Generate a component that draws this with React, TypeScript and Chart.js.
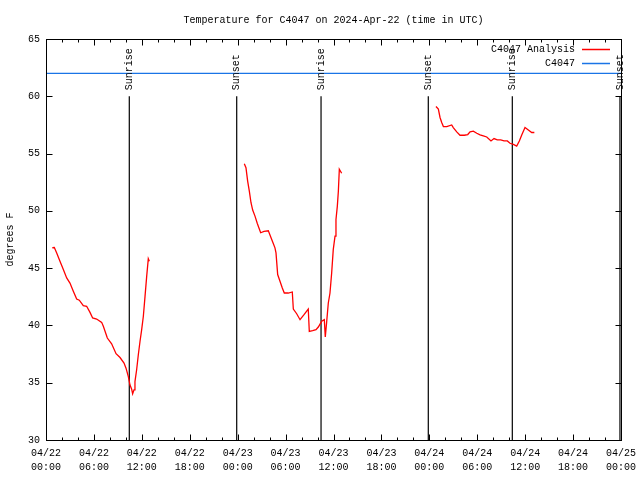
import React, { useEffect, useRef } from "react";
import { Chart, registerables } from "chart.js";

Chart.register(...registerables);

const FONT = "'Liberation Mono', 'DejaVu Sans Mono', monospace";

const titleText = "Temperature for C4047 on 2024-Apr-22 (time in UTC)";
const yAxisTitle = "degrees F";

// x axis: hours since 2024-04-22 00:00 UTC
const xTickDates = ["04/22", "04/22", "04/22", "04/22", "04/23", "04/23", "04/23", "04/23", "04/24", "04/24", "04/24", "04/24", "04/25"];
const xTickTimes = ["00:00", "06:00", "12:00", "18:00", "00:00", "06:00", "12:00", "18:00", "00:00", "06:00", "12:00", "18:00", "00:00"];
const yTicks = [30, 35, 40, 45, 50, 55, 60, 65];

// C4047 Analysis (null = gap between runs)
const analysisHours = [
  0.79, 1.04, 1.34, 1.75, 2.17, 2.59, 3.0, 3.42, 3.84, 4.17, 4.67, 5.09, 5.51, 5.84, 6.34, 6.97, 7.18, 7.68,
  8.22, 8.77, 9.27, 9.77, 10.02, 10.31, 10.52, 10.73, 10.85, 11.02, 11.14, 11.35, 11.56, 11.77, 11.98, 12.19,
  12.4, 12.61, 12.81, 12.94,
  18,
  24.83, 25.04, 25.25, 25.46, 25.67, 25.88, 26.17, 26.46, 26.88, 27.3, 27.84, 28.13, 28.46, 28.67, 28.8, 29.01,
  29.3, 29.59, 29.84, 30.34, 30.84, 30.97, 31.39, 31.81, 32.31, 32.84, 32.97, 33.39, 33.81, 34.1, 34.52, 34.85,
  34.97, 35.14, 35.35, 35.56, 35.77, 35.97, 36.19, 36.31, 36.48, 36.61, 36.73, 36.86, 37.02,
  42,
  48.83, 49.13, 49.34, 49.55, 49.76, 50.18, 50.8, 51.0, 51.43, 51.84, 52.38, 52.81, 53.1, 53.51, 53.94, 54.35,
  54.76, 55.19, 55.72, 56.1, 56.51, 56.94, 57.35, 57.77, 58.1, 58.52, 58.94, 59.27, 59.57, 59.98, 60.4, 60.82,
  61.15,
];
const analysisTemps = [
  46.78, 46.8, 46.33, 45.6, 44.88, 44.15, 43.7, 42.98, 42.3, 42.2, 41.73, 41.67, 41.14, 40.65, 40.56, 40.27, 39.92, 38.9,
  38.4, 37.53, 37.2, 36.71, 36.27, 35.54, 34.8, 34.43, 34.03, 34.38, 35.1, 36.13, 37.44, 38.6, 39.63, 40.8,
  42.54, 44.3, 45.82, 45.6,
  null,
  54.12, 53.77, 52.6, 51.73, 50.71, 50.07, 49.54, 48.9, 48.09, 48.2, 48.26, 47.74, 47.15, 46.77, 46.33, 44.44,
  43.85, 43.27, 42.83, 42.83, 42.92, 41.43, 41.02, 40.5, 40.94, 41.43, 39.48, 39.54, 39.63, 39.86, 40.36, 40.5,
  38.99, 40.27, 41.96, 42.83, 44.58, 46.62, 47.79, 49.25, 50.41, 51.73, 53.63, 53.48, 53.28,
  null,
  59.11, 58.88, 58.15, 57.71, 57.36, 57.36, 57.5, 57.27, 56.89, 56.6, 56.6, 56.66, 56.89, 56.95, 56.77, 56.63,
  56.54, 56.45, 56.1, 56.31, 56.19, 56.19, 56.1, 56.1, 55.9, 55.8, 55.65, 56.1, 56.63, 57.27, 57.06, 56.84,
  56.84,
];

// C4047 station
const stationHours = [0, 72];
const stationTemps = [62, 62];

// Sunrise / sunset markers
const sunEventHours = [10.43, 23.88, 34.44, 47.87, 58.39, 71.87];
const sunEventNames = ["Sunrise", "Sunset", "Sunrise", "Sunset", "Sunrise", "Sunset"];
const sunLineBottom = 30;
const sunLineTop = 60;

const legendNames = ["C4047 Analysis", "C4047"];
const seriesColors = ["#ff0000", "#1a74e6"];

export default function App() {
  const canvasRef = useRef<HTMLCanvasElement | null>(null);

  useEffect(() => {
    document.body.style.margin = "0";
    const canvas = canvasRef.current;
    if (!canvas) return;

    const analysisData = analysisHours.map((h, i) => ({ x: h, y: analysisTemps[i] as any }));
    const stationData = stationHours.map((h, i) => ({ x: h, y: stationTemps[i] }));
    const sunDatasets = sunEventHours.map((h, i) => ({
      label: sunEventNames[i],
      data: [
        { x: h, y: sunLineBottom },
        { x: h, y: sunLineTop },
      ],
      borderColor: "#000000",
      borderWidth: 1.2,
      pointRadius: 0,
      fill: false,
    }));

    const overlayPlugin = {
      id: "overlay",
      afterDatasetsDraw(chart: any) {
        const { ctx, chartArea, scales } = chart;
        const { left, right, top, bottom } = chartArea;
        const xs = scales.x;
        const ys = scales.y;
        ctx.save();
        ctx.strokeStyle = "#000000";
        ctx.lineWidth = 1;
        // frame
        ctx.strokeRect(Math.round(left) + 0.5, Math.round(top) + 0.5, Math.round(right - left), Math.round(bottom - top));
        // x ticks (major every 6 h, minor every 2 h), mirrored on top
        ctx.beginPath();
        for (let h = 0; h <= 72; h += 2) {
          const px = Math.round(xs.getPixelForValue(h)) + 0.5;
          const len = h % 6 === 0 ? 6 : 3;
          ctx.moveTo(px, bottom + 0.5);
          ctx.lineTo(px, bottom + 0.5 - len);
          ctx.moveTo(px, top + 0.5);
          ctx.lineTo(px, top + 0.5 + len);
        }
        for (const v of yTicks) {
          const py = Math.round(ys.getPixelForValue(v)) + 0.5;
          ctx.moveTo(left + 0.5, py);
          ctx.lineTo(left + 0.5 + 6, py);
          ctx.moveTo(right + 0.5, py);
          ctx.lineTo(right + 0.5 - 6, py);
        }
        ctx.stroke();

        // sun event labels
        ctx.fillStyle = "#000000";
        ctx.font = `10px ${FONT}`;
        sunEventHours.forEach((h, i) => {
          const px = xs.getPixelForValue(h);
          const py = ys.getPixelForValue(sunLineTop) - 6;
          ctx.save();
          ctx.translate(px, py);
          ctx.rotate(-Math.PI / 2);
          ctx.textAlign = "left";
          ctx.textBaseline = "middle";
          ctx.fillText(sunEventNames[i], 0, 0);
          ctx.restore();
        });

        // legend
        ctx.textAlign = "right";
        ctx.textBaseline = "middle";
        legendNames.forEach((name, i) => {
          const ly = top + 10 + i * 14;
          ctx.fillStyle = "#000000";
          ctx.fillText(name, right - 46, ly);
          ctx.strokeStyle = seriesColors[i];
          ctx.lineWidth = 1.5;
          ctx.beginPath();
          ctx.moveTo(right - 39, Math.round(ly) + 0.5);
          ctx.lineTo(right - 11, Math.round(ly) + 0.5);
          ctx.stroke();
        });
        ctx.restore();
      },
    };

    const chart = new Chart(canvas, {
      type: "line",
      data: {
        datasets: [
          {
            label: legendNames[0],
            data: analysisData,
            borderColor: seriesColors[0],
            borderWidth: 1.3,
            pointRadius: 0,
            spanGaps: false,
            fill: false,
          },
          {
            label: legendNames[1],
            data: stationData,
            borderColor: seriesColors[1],
            borderWidth: 1.2,
            pointRadius: 0,
            fill: false,
          },
          ...sunDatasets,
        ],
      },
      options: {
        responsive: false,
        animation: false,
        events: [],
        layout: { padding: { left: 0, right: 19, top: 0, bottom: 0 } },
        plugins: {
          legend: { display: false },
          tooltip: { enabled: false },
          title: {
            display: true,
            text: titleText,
            fullSize: false,
            color: "#000000",
            font: { family: FONT, size: 10, weight: "normal" },
            padding: { top: 14, bottom: 13 },
          },
        },
        scales: {
          x: {
            type: "linear",
            min: 0,
            max: 72,
            grid: { display: false, drawTicks: false },
            border: { display: false },
            afterFit: (s: any) => {
              s.height = 40;
              s.paddingLeft = 0;
              s.paddingRight = 0;
            },
            ticks: {
              stepSize: 6,
              autoSkip: false,
              maxRotation: 0,
              padding: 6,
              color: "#000000",
              font: { family: FONT, size: 10, lineHeight: 1.4 },
              callback: (value: any) => {
                const idx = Math.round(Number(value) / 6);
                return [xTickDates[idx], xTickTimes[idx]];
              },
            },
          },
          y: {
            type: "linear",
            min: 30,
            max: 65,
            grid: { display: false, drawTicks: false },
            border: { display: false },
            afterFit: (s: any) => {
              s.width = 46;
              s.paddingTop = 0;
              s.paddingBottom = 0;
            },
            title: {
              display: true,
              text: yAxisTitle,
              color: "#000000",
              font: { family: FONT, size: 10 },
              padding: { top: 4, bottom: 0 },
            },
            ticks: {
              stepSize: 5,
              padding: 6,
              color: "#000000",
              font: { family: FONT, size: 10 },
            },
          },
        },
      },
      plugins: [overlayPlugin],
    } as any);

    return () => {
      chart.destroy();
    };
  }, []);

  return (
    <div style={{ width: 640, height: 480 }}>
      <canvas ref={canvasRef} width={640} height={480} />
    </div>
  );
}
